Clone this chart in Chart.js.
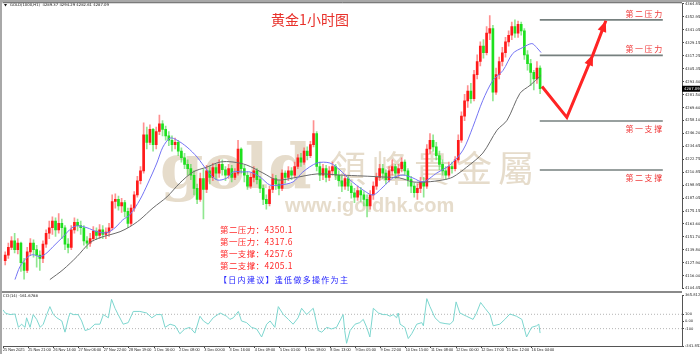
<!DOCTYPE html>
<html>
<head>
<meta charset="utf-8">
<script src="https://cdn.jsdelivr.net/npm/chart.js@4.4.1/dist/chart.umd.min.js"></script>
<style>
  body { margin: 0; background: #fff; }
  #wrap { position: relative; width: 700px; height: 354px; overflow: hidden; background: #fff; }
  #main { position: absolute; left: 0; top: 0; }
  #cci { position: absolute; left: 0; top: 292px; }
  .topbar { position: absolute; left: 0; top: 0; width: 700px; height: 2px; background: #a8a8a8; }
  .leftbar { position: absolute; left: 0; top: 0; width: 2px; height: 354px; background: #a8a8a8; }
  .sep { position: absolute; left: 2px; top: 291px; width: 680px; height: 2px; background: #8a8a8a; }
</style>
</head>
<body>
<div id="wrap">
  <canvas id="main" width="700" height="292" style="width:700px;height:292px"></canvas>
  <canvas id="cci" width="700" height="62" style="width:700px;height:62px"></canvas>
  <div class="topbar"></div>
  <div class="leftbar"></div>
  <div class="sep"></div>
</div>
<script>
// ---- data (one bar = one candle, open = previous close) ----
const firstOpen = 4130;
const closes = [4135,4142,4148,4140,4146,4128,4121,4138,4146,4140,
  4135,4132,4145,4155,4160,4166,4158,4164,4160,4145,
  4142,4158,4165,4162,4160,4148,4146,4150,4157,4153,
  4158,4154,4156,4160,4184,4186,4180,4183,4175,4164,
  4178,4190,4203,4212,4245,4238,4250,4236,4248,4255,
  4250,4244,4240,4236,4238,4230,4224,4218,4214,4208,
  4196,4186,4205,4195,4212,4206,4215,4210,4218,4213,
  4208,4214,4206,4210,4232,4214,4208,4198,4206,4212,
  4204,4196,4186,4182,4195,4205,4200,4196,4210,4206,
  4212,4208,4216,4224,4220,4230,4226,4236,4246,4216,
  4208,4214,4206,4212,4216,4208,4203,4198,4205,4198,
  4192,4188,4194,4190,4186,4180,4190,4198,4206,4214,
  4210,4204,4212,4216,4210,4214,4220,4212,4204,4198,
  4192,4196,4202,4198,4232,4240,4234,4226,4218,4212,
  4208,4216,4214,4222,4240,4262,4276,4285,4278,4300,
  4312,4326,4320,4338,4342,4284,4300,4312,4320,4330,
  4336,4344,4338,4346,4340,4318,4310,4302,4296,4306,
  4287.09];
const highs = [4138,4146,4152,4155,4150,4147,4132,4142,4150,4149,
  4144,4139,4148,4158,4166,4170,4169,4173,4168,4162,
  4150,4162,4169,4168,4166,4162,4152,4155,4161,4160,
  4163,4162,4160,4164,4190,4191,4189,4187,4185,4178,
  4181,4193,4207,4216,4256,4252,4254,4251,4252,4263,
  4258,4253,4248,4244,4242,4240,4233,4228,4222,4218,
  4212,4200,4210,4214,4217,4216,4219,4218,4222,4222,
  4216,4218,4217,4214,4240,4233,4217,4211,4210,4216,
  4214,4207,4199,4190,4198,4209,4208,4203,4213,4212,
  4216,4215,4220,4227,4228,4233,4234,4239,4258,4248,
  4220,4218,4217,4216,4220,4218,4212,4207,4209,4207,
  4201,4196,4198,4197,4193,4190,4194,4202,4210,4218,
  4218,4213,4216,4222,4218,4218,4224,4222,4214,4207,
  4201,4200,4206,4206,4236,4246,4245,4238,4230,4222,
  4216,4220,4220,4225,4245,4266,4282,4290,4292,4304,
  4318,4330,4332,4344,4354,4345,4306,4316,4325,4334,
  4340,4348,4350,4349,4348,4342,4322,4314,4304,4312,
  4308];
const lows = [4126,4132,4140,4137,4136,4120,4113,4119,4135,4133,
  4124,4121,4128,4142,4150,4154,4152,4155,4150,4140,
  4137,4140,4155,4157,4154,4144,4141,4143,4148,4149,
  4150,4150,4150,4152,4158,4178,4176,4174,4170,4160,
  4162,4175,4188,4200,4210,4232,4236,4230,4232,4245,
  4244,4240,4235,4230,4232,4226,4220,4214,4208,4204,
  4190,4182,4184,4168,4192,4200,4203,4204,4206,4208,
  4203,4205,4202,4204,4208,4210,4202,4195,4196,4202,
  4200,4192,4181,4177,4180,4192,4195,4190,4194,4201,
  4203,4204,4206,4214,4216,4218,4222,4224,4234,4212,
  4203,4204,4202,4203,4208,4204,4198,4193,4195,4194,
  4187,4183,4185,4184,4180,4170,4177,4186,4195,4203,
  4205,4200,4202,4208,4205,4206,4211,4208,4198,4192,
  4188,4186,4192,4188,4196,4228,4230,4222,4213,4208,
  4204,4206,4210,4212,4220,4238,4258,4270,4274,4276,
  4296,4308,4315,4318,4332,4276,4282,4296,4308,4316,
  4326,4332,4334,4334,4336,4314,4304,4290,4286,4292,
  4282.61];

// moving averages as drawn (bar position, price)
const maFastBars = [3.1,4.7,6.9,8.8,11.1,13.3,15.2,18.4,21.2,23.1,26,29.2,32.3,34.9,37.4,39.6,42.8,45.4,48.2,50.1,52.4,54.6,57.8,61,64.1,67.3,70.5,72.4,75.6,77.8,81,84.1,87.3,91.5,94.6,99.1,103.2,106.4,109.6,113.7,116.9,120.1,123.2,126.4,129.6,132.8,137.2,141.3,145.5,148.6,151.8,155,158.2,161.3,164.5,167.4,168.9,170.3];
const maFastValues = [4112.6,4124.5,4132.7,4135.4,4133.6,4137.2,4142.7,4151.8,4160,4161.8,4160,4156.4,4155.4,4160,4167.3,4171.8,4185.5,4200.9,4219.2,4233.7,4242,4240.1,4233.7,4224.6,4212.8,4203.7,4205.5,4211,4211,4211,4206.4,4199.1,4199.1,4201.9,4211,4219.2,4219.2,4212.8,4203.7,4194.6,4190,4197.3,4205.5,4208.2,4205.5,4201.9,4210.1,4217.3,4231,4251.9,4276.5,4294.7,4303.8,4319.3,4324.8,4328.4,4324.8,4320.2];
const maSlowBars = [14.2,18.4,22.8,26.9,30.1,33.3,36.5,39.6,42.8,47,51.4,55.5,59.7,64.1,68.3,72.4,76.8,81.9,86.4,91.5,99.1,106.4,113.7,120.1,125.4,129.6,134,139.1,142.3,146.7,151.8,156.3,159.5,163.6,166.8,170.3];
const maSlowValues = [4112.6,4121.7,4133.6,4146.3,4150.9,4153.6,4156.4,4160.9,4167.3,4178.2,4188.2,4200.9,4211,4215.5,4220.1,4220.1,4217.3,4210.1,4203.7,4205.5,4209.2,4208.2,4207.3,4206.4,4205.5,4201.9,4201.9,4203.7,4206.4,4215.5,4228.3,4249.2,4258.3,4282.9,4290.2,4299.3];

// CCI(14) as drawn
const cciBars = [-0.7,0,1.5,3.1,4.2,5.2,6.3,6.8,7.9,8.9,10,11.1,12.1,13.2,14.2,15.3,16.4,18,19,20.1,20.6,21.6,23.2,24.3,25.4,26.9,28.5,30.1,31.2,32.8,33.8,34.9,35.9,37.5,39.1,40.7,42.8,45,46.6,48.1,49.7,50.8,52.4,54,55.5,57.1,58.7,60.3,61.9,63,64.5,66.1,68.3,70.4,71.4,72.5,74.1,75.1,76.7,78.3,79.9,81.5,83.1,84.2,85.7,86.8,88.4,90,91.5,93.1,94.2,95.8,97.9,99.5,100.6,102.2,103.7,105.3,107.4,107.9,108.5,109.6,111.2,112.7,113.8,114.9,115.9,117,118.6,120.1,121.2,122.3,123.3,124.4,124.9,125.5,127,128.1,129.2,130.8,132.4,132.9,134,135,136.6,138.2,139.8,141.4,142.4,143.3,144.5,146.6,148.7,149.8,151.1,152.5,154.1,155.1,157.2,158.8,160.4,162.5,164.2,165.7,167.3,168.9,169.6,170];
const cciValues = [162,118,96,104,-82,-38,-82,51,-82,96,29,-82,-38,96,207,96,51,7,-149,51,118,96,96,7,-127,-104,-38,-38,96,51,309,184,96,-38,-16,140,140,118,51,96,96,-82,-38,-60,-171,-104,-82,-162,73,7,-38,51,118,73,29,51,140,7,-16,-82,-104,-216,-38,7,-82,207,96,29,-38,51,184,96,184,-127,-149,-82,-104,-82,96,-127,-304,-127,-38,-16,29,-82,-216,184,118,96,96,73,96,51,118,-38,-82,-238,-171,-38,-16,-60,318,207,51,-16,-29,-38,7,273,118,73,29,118,264,184,96,-60,-38,29,104,73,29,-216,-82,-60,-38,-161.6788];

// key levels and forecast path
const levelNames = ['第二压力', '第一压力', '第一支撑', '第二支撑'];
const levelValues = [4350.1, 4317.6, 4257.6, 4212.8];
const levelFrom = 169.9, levelTo = 209.0;
const arrowBars = [170.6, 178.5, 186.8, 190.9];
const arrowPrices = [4289.2, 4260.9, 4318.3, 4349.2];
const noteLines = ['第二压力：4350.1', '第一压力：4317.6', '第一支撑：4257.6', '第二支撑：4205.1'];
const adviceLine = '【日内建议】逢低做多操作为主';

// axes
const yTickValues = [4364.85,4352.95,4341.05,4329.15,4317.25,4305.35,4293.40,4281.50,4269.60,4258.10,4246.20,4234.65,4222.75,4210.85,4198.95,4187.05,4175.15,4163.60,4151.70,4139.80,4127.90,4116.00,4104.45];
const cciTickValues = [365.8123, 100, 0, -100, -341.8524];
const cciTickLabels = ['365.8123', '100', '0.00', '-100', '-341.8524'];
const xTickBars = [-0.7,7.3,15.3,23.3,31.3,39.3,47.3,55.3,63.3,71.3,79.3,87.3,95.3,103.3,111.3,119.3,127.3,135.3,143.3,151.3,159.3,167.3];
const xTickLabels = ['25 Nov 2025','25 Nov 21:00','26 Nov 14:00','27 Nov 06:00','27 Nov 22:00','28 Nov 19:00','1 Dec 16:00','2 Dec 08:00','3 Dec 00:00','3 Dec 16:00','4 Dec 09:00','5 Dec 01:00','5 Dec 18:00','8 Dec 13:00','9 Dec 05:00','9 Dec 22:00','10 Dec 15:00','11 Dec 08:00','12 Dec 00:00','12 Dec 17:00','15 Dec 12:00','16 Dec 04:00'];
const X_MIN = -0.7, X_MAX = 215.1;

const UP = '#ff1a1a', DOWN = '#1ee01e';
const CJK = '"Noto Sans CJK SC", "Noto Sans", sans-serif';

const opens = closes.map((c, i) => i === 0 ? firstOpen : closes[i - 1]);
const bodies = closes.map((c, i) => ({ x: i, y: [opens[i], c] }));
const wicks = closes.map((c, i) => ({ x: i, y: [lows[i], highs[i]] }));
const isUp = i => closes[i] >= opens[i];
const pts = (xs, ys) => xs.map((x, i) => ({ x: x, y: ys[i] }));

const watermark = {
  id: 'watermark',
  beforeDatasetsDraw(chart) {
    const ctx = chart.ctx;
    ctx.save();
    ctx.fillStyle = '#e6dccb';
    ctx.textBaseline = 'alphabetic';
    ctx.font = 'bold 62px "DejaVu Serif", serif';
    ctx.fillText('gold', 160, 188, 165);
    ctx.font = '36px ' + CJK;
    ctx.letterSpacing = '6px';
    ctx.fillText('領峰貴金屬', 330, 182);
    ctx.letterSpacing = '0px';
    ctx.font = 'bold 20px "Liberation Sans", Arial, sans-serif';
    ctx.fillText('www.igoldhk.com', 285, 212, 172);
    ctx.restore();
  }
};

const annotations = {
  id: 'annotations',
  afterDatasetsDraw(chart) {
    const ctx = chart.ctx;
    ctx.save();
    // arrow heads on the forecast path
    const meta = chart.getDatasetMeta(chart.data.datasets.findIndex(d => d.id === 'arrow'));
    [2, 3].forEach(k => {
      const a = meta.data[k - 1], b = meta.data[k];
      const ang = Math.atan2(b.y - a.y, b.x - a.x);
      ctx.fillStyle = '#ff2424';
      ctx.beginPath();
      ctx.moveTo(b.x, b.y);
      ctx.lineTo(b.x - 11 * Math.cos(ang) + 4.5 * Math.sin(ang), b.y - 11 * Math.sin(ang) - 4.5 * Math.cos(ang));
      ctx.lineTo(b.x - 11 * Math.cos(ang) - 4.5 * Math.sin(ang), b.y - 11 * Math.sin(ang) + 4.5 * Math.cos(ang));
      ctx.closePath();
      ctx.fill();
    });
    ctx.restore();
  },
  afterDraw(chart) {
    const ctx = chart.ctx;
    const xs = chart.scales.x, ys = chart.scales.y;
    ctx.save();
    // header
    ctx.fillStyle = '#111';
    ctx.beginPath();
    ctx.moveTo(4, 4); ctx.lineTo(7, 4); ctx.lineTo(5.5, 6.5); ctx.closePath(); ctx.fill();
    ctx.font = '3.8px "DejaVu Sans", sans-serif';
    ctx.textBaseline = 'middle';
    ctx.fillText('GOLD(1000,H1)  4289.37 4294.29 4282.61 4287.09', 10, 5.5);
    // title
    ctx.fillStyle = '#e8302a';
    ctx.font = '14px ' + CJK;
    ctx.textAlign = 'center';
    ctx.fillText('黄金1小时图', 310, 20);
    // level captions
    ctx.font = '8px ' + CJK;
    ctx.letterSpacing = '1.6px';
    ctx.textAlign = 'right';
    ctx.fillStyle = '#f03c3c';
    const right = xs.getPixelForValue(levelTo);
    levelValues.forEach((v, i) => {
      const y = ys.getPixelForValue(v);
      ctx.fillText(levelNames[i], right + 1, i < 2 ? y - 6 : y + 8);
    });
    // notes
    ctx.textAlign = 'left';
    ctx.letterSpacing = '0.4px';
    ctx.font = '8.5px ' + CJK;
    ctx.fillStyle = '#ff2a2a';
    noteLines.forEach((t, i) => ctx.fillText(t, 220, 230 + i * 12));
    ctx.fillStyle = '#2424ff';
    ctx.font = '8px ' + CJK;
    ctx.letterSpacing = '1.3px';
    ctx.fillText(adviceLine, 219, 280);
    ctx.letterSpacing = '0px';
    // current price box
    const py = ys.getPixelForValue(closes[closes.length - 1]);
    ctx.fillStyle = '#000';
    ctx.fillRect(682, py - 3, 18, 6);
    ctx.fillStyle = '#fff';
    ctx.font = '3.8px "DejaVu Sans", sans-serif';
    ctx.fillText(closes[closes.length - 1].toFixed(2), 684, py);
    // frame
    ctx.strokeStyle = '#555';
    ctx.lineWidth = 1;
    const a = chart.chartArea;
    ctx.beginPath();
    ctx.moveTo(a.left - 0.5, a.top - 0.5);
    ctx.lineTo(a.right, a.top - 0.5);
    ctx.stroke();
    ctx.restore();
  }
};

new Chart(document.getElementById('main'), {
  type: 'bar',
  data: {
    datasets: [
      { id: 'arrow', type: 'line', data: pts(arrowBars, arrowPrices), borderColor: '#ff2424', borderWidth: 3, pointRadius: 0, order: 0 },
      ...levelValues.map(v => ({ type: 'line', data: [{ x: levelFrom, y: v }, { x: levelTo, y: v }], borderColor: '#76807f', borderWidth: 1.6, pointRadius: 0, order: 1 })),
      { type: 'line', data: pts(maFastBars, maFastValues), borderColor: '#7474f4', borderWidth: 1, pointRadius: 0, tension: 0.3, order: 1 },
      { type: 'line', data: pts(maSlowBars, maSlowValues), borderColor: '#6a6a6a', borderWidth: 1, pointRadius: 0, tension: 0.3, order: 1 },
      { data: bodies, backgroundColor: c => isUp(c.dataIndex) ? UP : DOWN, barThickness: 2, grouped: false, borderWidth: 0, order: 2 },
      { data: wicks, backgroundColor: c => isUp(c.dataIndex) ? 'rgba(255,70,70,0.6)' : 'rgba(70,215,70,0.6)', barThickness: 1, grouped: false, borderWidth: 0, order: 3 }
    ]
  },
  options: {
    responsive: false,
    animation: false,
    events: [],
    layout: { padding: { left: 3, top: 3, right: 0, bottom: 2 } },
    plugins: { legend: { display: false }, tooltip: { enabled: false } },
    scales: {
      x: { type: 'linear', min: X_MIN, max: X_MAX, offset: false, display: false },
      y: {
        position: 'right', min: 4104.2, max: 4365.3,
        afterFit: s => { s.width = 18; },
        afterBuildTicks: s => { s.ticks = yTickValues.map(v => ({ value: v })); },
        ticks: { autoSkip: false, padding: 1, color: '#222', font: { size: 3.7, family: 'DejaVu Sans' }, callback: (v, i) => yTickValues[i].toFixed(2) },
        grid: { drawOnChartArea: false, tickLength: 2, color: '#444' },
        border: { display: true, color: '#555' }
      }
    }
  },
  plugins: [watermark, annotations]
});

const cciText = {
  id: 'cciText',
  afterDraw(chart) {
    const ctx = chart.ctx;
    ctx.save();
    ctx.fillStyle = '#111';
    ctx.font = '3.8px "DejaVu Sans", sans-serif';
    ctx.textBaseline = 'middle';
    ctx.fillText('CCI(14) -161.6788', 3, 4);
    ctx.restore();
  }
};

new Chart(document.getElementById('cci'), {
  type: 'line',
  data: {
    datasets: [
      { data: pts(cciBars, cciValues), borderColor: '#7dd6cf', borderWidth: 1, pointRadius: 0 },
      ...[100, -100].map(v => ({ data: [{ x: X_MIN, y: v }, { x: X_MAX, y: v }], borderColor: '#b4b4b4', borderWidth: 1, borderDash: [1, 2], pointRadius: 0 }))
    ]
  },
  options: {
    responsive: false,
    animation: false,
    events: [],
    layout: { padding: { left: 3, top: 1.5, right: 0, bottom: 0 } },
    plugins: { legend: { display: false }, tooltip: { enabled: false } },
    scales: {
      x: {
        type: 'linear', min: X_MIN, max: X_MAX, offset: false,
        afterFit: s => { s.height = 8; },
        afterBuildTicks: s => { s.ticks = xTickBars.map(v => ({ value: v })); },
        ticks: { autoSkip: false, maxRotation: 0, align: 'start', padding: 0, color: '#222', font: { size: 3.8, family: 'Liberation Sans' }, callback: (v, i) => xTickLabels[i] },
        grid: { drawOnChartArea: false, tickLength: 2, color: '#444' },
        border: { display: true, color: '#555' }
      },
      y: {
        position: 'right', min: -341.8524, max: 365.8123,
        afterFit: s => { s.width = 18; },
        afterBuildTicks: s => { s.ticks = cciTickValues.map(v => ({ value: v })); },
        ticks: { autoSkip: false, padding: 1, color: '#222', font: { size: 3.7, family: 'DejaVu Sans' }, callback: (v, i) => cciTickLabels[i] },
        grid: { drawOnChartArea: false, tickLength: 2, color: '#444' },
        border: { display: true, color: '#555' }
      }
    }
  },
  plugins: [cciText]
});
</script>
</body>
</html>
